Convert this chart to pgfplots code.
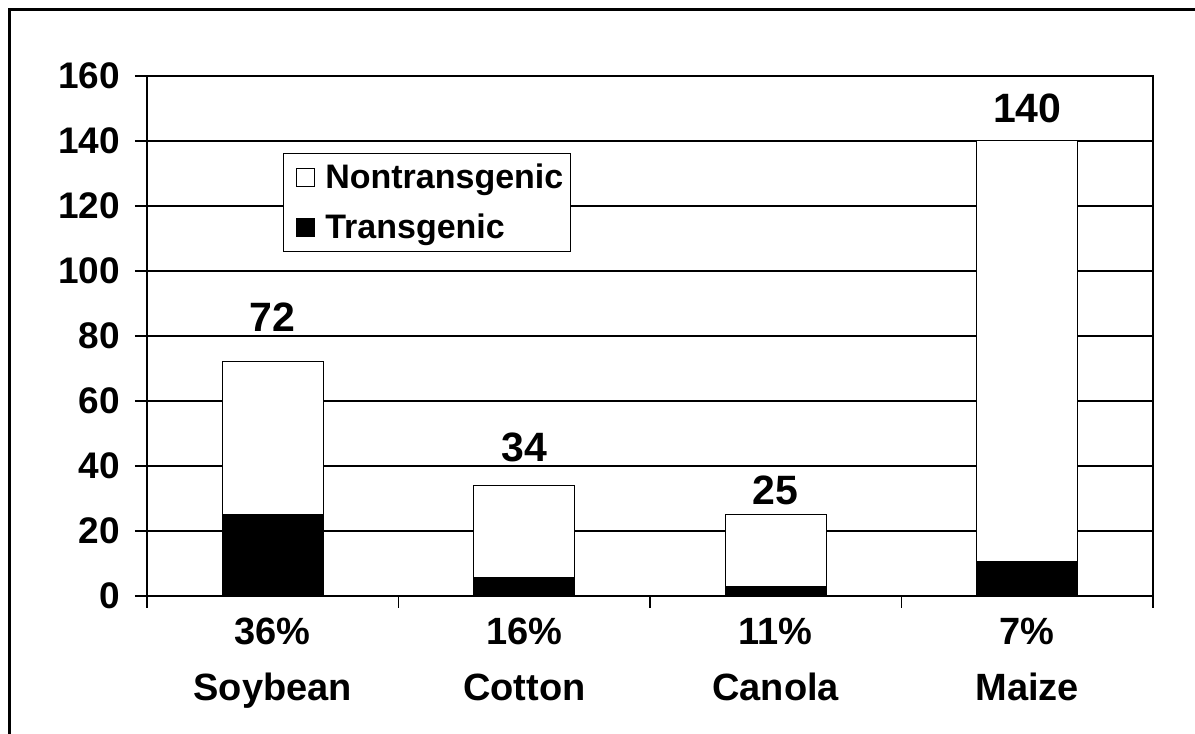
\documentclass[border=0pt]{standalone}
\usepackage{pgfplots}
\pgfplotsset{compat=1.18}
\usepackage{fontspec}
\setmainfont{Liberation Sans}
\begin{document}
\begin{tikzpicture}
\useasboundingbox (0pt,0pt) rectangle (597.5pt,367pt);
\draw[line width=1.5pt] (4.5pt,-2pt) -- (4.5pt,362pt) -- (600pt,362pt);
\begin{axis}[
  at={(73.5pt,69pt)}, anchor=south west,
  scale only axis, width=503pt, height=260pt,
  ybar stacked, bar width=0.4,
  xmin=-0.5, xmax=3.5, ymin=0, ymax=160,
  ytick={0,20,...,160},
  ymajorgrids, major grid style={black, line width=0.6pt},
  axis line style={line width=0.6pt},
  tick style={black, line width=0.6pt},
  tick align=outside, major tick length=6pt,
  ytick pos=left, xtick pos=bottom,
  xtick={-0.5,0.5,1.5,2.5,3.5}, xticklabels={},
  extra x ticks={0,1,2,3},
  extra x tick labels={36\%\\Soybean, 16\%\\Cotton, 11\%\\Canola, 7\%\\Maize},
  extra x tick style={major tick length=0pt, xmajorgrids=false,
     tick label style={align=center, yshift=-7.5pt, font=\fontsize{19}{28}\selectfont\bfseries}},
  /pgf/number format/assume math mode=true,
  tick label style={font=\fontsize{18.5}{22}\selectfont\bfseries},
  yticklabel style={xshift=-4pt},
  reverse legend,
  legend style={at={(0.135,0.852)}, anchor=north west, draw=black, line width=0.5pt,
     fill=white, font=\fontsize{17}{21}\selectfont\bfseries,
     inner xsep=1.5pt, inner ysep=3pt, row sep=7.5pt},
  legend cell align=left,
  legend image code/.code={\draw[#1, line width=0.5pt] (5pt,-4.5pt) rectangle (14pt,4.5pt); \path[draw=none, fill=none] (0pt,0pt) -- (17.5pt,0pt);},
]
\addplot[fill=black, draw=black, line width=0.5pt] coordinates {(0,25) (1,5.6) (2,3.0) (3,10.6)};
\addlegendentry{Transgenic}
\addplot[fill=white, draw=black, line width=0.5pt]
  coordinates {(0,47) (1,28.4) (2,22) (3,129.4)};
\addlegendentry{Nontransgenic}
\end{axis}
\begin{axis}[
  at={(73.5pt,69pt)}, anchor=south west,
  scale only axis, width=503pt, height=260pt,
  xmin=-0.5, xmax=3.5, ymin=0, ymax=160,
  hide axis,
  nodes near coords style={font=\fontsize{20.5}{24}\selectfont\bfseries, anchor=south},
]
\addplot[draw=none, mark=none, nodes near coords, point meta=explicit symbolic,
  every node near coord/.append style={yshift=11.8pt}]
  coordinates {(0,72)[72]};
\addplot[draw=none, mark=none, nodes near coords, point meta=explicit symbolic,
  every node near coord/.append style={yshift=8.3pt}]
  coordinates {(1,34)[34]};
\addplot[draw=none, mark=none, nodes near coords, point meta=explicit symbolic,
  every node near coord/.append style={yshift=1.3pt}]
  coordinates {(2,25)[25]};
\addplot[draw=none, mark=none, nodes near coords, point meta=explicit symbolic,
  every node near coord/.append style={yshift=5.3pt}]
  coordinates {(3,140)[140]};
\end{axis}
\end{tikzpicture}
\end{document}
